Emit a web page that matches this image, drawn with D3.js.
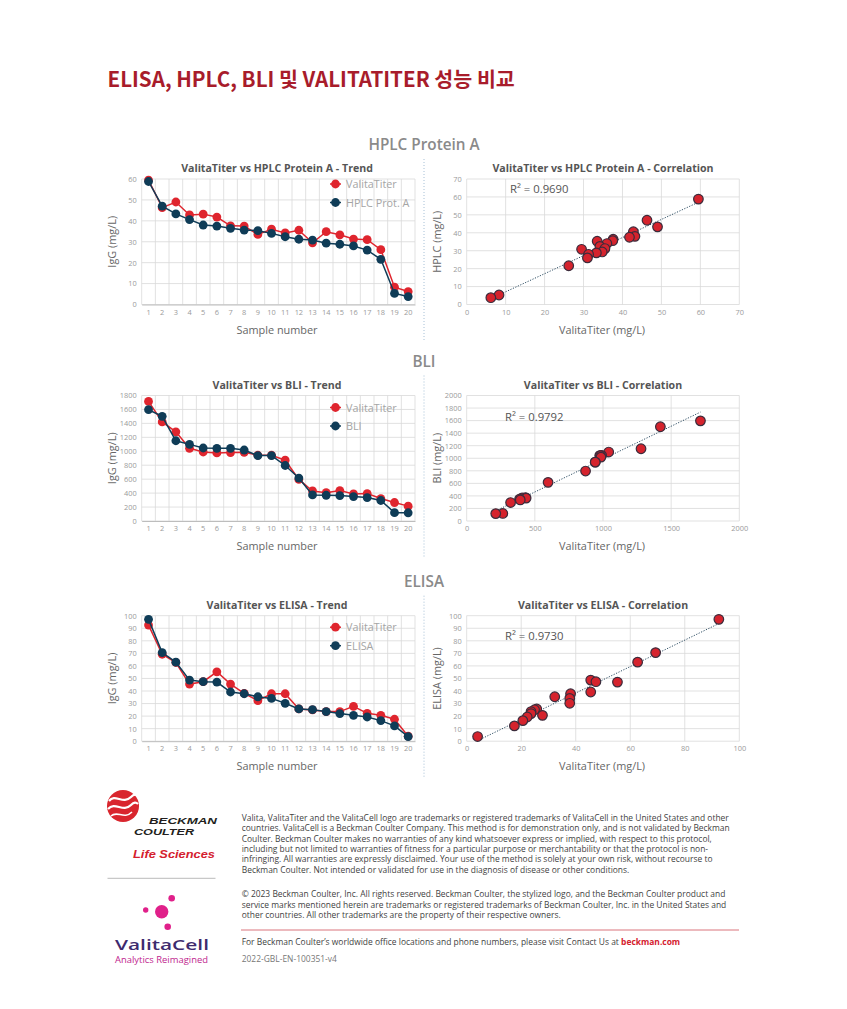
<!DOCTYPE html>
<html>
<head>
<meta charset="utf-8">
<script src="https://cdn.jsdelivr.net/npm/d3@7"></script>
<style>
  html, body { margin: 0; padding: 0; background: #fff; }
  svg { display: block; }
</style>
</head>
<body>
<div id="page"></div>
<script>
// ---- data ----
var samples = [1,2,3,4,5,6,7,8,9,10,11,12,13,14,15,16,17,18,19,20];

var hplcValita = [59.5,46.3,49,42.8,43.2,41.8,37.6,37.5,33.5,36,34.2,35.5,29.5,34.8,33.3,31.3,31,26.2,8.3,6.2];
var hplcRef    = [58.8,47,43.3,40.6,38,37.5,36.4,35.6,35.3,34,32.4,31.2,30.8,29.3,28.8,28,26,21.6,5.3,3.8];

var bliValita = [1715,1421,1279,1042,990,976,981,985,943,943,872,597,431,407,436,388,393,322,265,213];
var bliRef    = [1596,1502,1151,1099,1047,1042,1042,1018,938,938,796,616,374,369,365,350,336,294,120,118];

var elisaValita = [92.5,69.3,62.7,45.5,47.4,55.3,45.5,38.1,32.3,37.8,37.8,25.7,24.9,23.6,23.6,27.8,22.2,20.6,17.5,4];
var elisaRef    = [97.1,70.6,63,48.7,47.4,47.1,39.2,37.8,35.4,34.1,30.2,25.7,25.1,23.6,22,20.6,19.3,16.4,12.2,3.7];

var sectionNames = ["HPLC Protein A", "BLI", "ELISA"];
var refNames     = ["HPLC Prot. A", "BLI", "ELISA"];
var methodShort  = ["HPLC Protein A", "BLI", "ELISA"];
var scatterYLabels = ["HPLC (mg/L)", "BLI (mg/L)", "ELISA (mg/L)"];
var r2Text = ["0.9690", "0.9792", "0.9730"];

var trendYTicks = [
  [0,10,20,30,40,50,60],
  [0,200,400,600,800,1000,1200,1400,1600,1800],
  [0,10,20,30,40,50,60,70,80,90,100]
];
var scatterXTicks = [
  [0,10,20,30,40,50,60,70],
  [0,500,1000,1500,2000],
  [0,20,40,60,80,100]
];
var scatterYTicks = [
  [0,10,20,30,40,50,60,70],
  [0,200,400,600,800,1000,1200,1400,1600,1800,2000],
  [0,10,20,30,40,50,60,70,80,90,100]
];

// ---- layout ----
var W = 847, H = 1009;
var font = "'Open Sans', 'Noto Sans', sans-serif";
var red = "#df252e", navy = "#0f3c57", grid = "#d9d9d9";
var plotH = 125.5;
var trendX0 = 141.7, trendX1 = 415;
var scatX0 = 466.7, scatX1 = 739.3;
var fmt = d3.format("d");

var sections = [
  {top: 179, valita: hplcValita, ref: hplcRef, legendDy: 5,  r2x: 510, r2dy: 13.5},
  {top: 395.5, valita: bliValita, ref: bliRef, legendDy: 12, r2x: 505, r2dy: 25},
  {top: 615.7, valita: elisaValita, ref: elisaRef, legendDy: 11.5, r2x: 505, r2dy: 24.5}
];

var svg = d3.select("#page").append("svg")
    .attr("width", W)
    .attr("height", H)
    .style("font-family", font);

// page title
svg.append("text")
    .attr("x", 107.5)
    .attr("y", 86.5)
    .attr("fill", "#a81c2b")
    .style("font-family", "'Noto Sans CJK KR', 'Noto Sans', sans-serif")
    .style("font-weight", 700)
    .style("font-size", "20.6px")
    .text("ELISA, HPLC, BLI 및 VALITATITER 성능 비교");

sections.forEach(function(sec, i) {
    var top = sec.top, bottom = top + plotH;

    // section heading + separator
    svg.append("text")
        .attr("x", 424).attr("y", top - 29)
        .attr("text-anchor", "middle")
        .attr("fill", "#8a8a8a")
        .style("font-size", "15.3px")
        .style("font-weight", 600)
        .text(sectionNames[i]);

    svg.append("line")
        .attr("x1", 424).attr("x2", 424)
        .attr("y1", top - 20).attr("y2", bottom + 37)
        .attr("stroke", "#8fb0cc")
        .attr("stroke-width", 0.8)
        .attr("stroke-dasharray", "1,2");

    drawTrend(sec, i, top, bottom);
    drawScatter(sec, i, top, bottom);
});

function drawTrend(sec, i, top, bottom) {
    var g = svg.append("g");
    var yt = trendYTicks[i];
    var x = d3.scaleBand().domain(samples).range([trendX0, trendX1]);
    var y = d3.scaleLinear().domain([0, yt[yt.length - 1]]).range([bottom, top]);
    var bw = x.bandwidth();

    // grid
    g.append("g").selectAll("line").data(yt).join("line")
        .attr("x1", trendX0).attr("x2", trendX1)
        .attr("y1", function(d) { return y(d); })
        .attr("y2", function(d) { return y(d); })
        .attr("stroke", grid).attr("stroke-width", 0.8);
    g.append("g").selectAll("line").data([0].concat(samples)).join("line")
        .attr("x1", function(d) { return d === 0 ? trendX0 : x(d) + bw; })
        .attr("x2", function(d) { return d === 0 ? trendX0 : x(d) + bw; })
        .attr("y1", top).attr("y2", bottom)
        .attr("stroke", grid).attr("stroke-width", 0.8);

    // axes
    var ya = g.append("g")
        .attr("transform", "translate(" + trendX0 + ",0)")
        .call(d3.axisLeft(y).tickValues(yt).tickFormat(fmt).tickSize(0).tickPadding(5));
    ya.select(".domain").remove();
    var xa = g.append("g")
        .attr("transform", "translate(0," + bottom + ")")
        .call(d3.axisBottom(x).tickSize(0).tickPadding(5));
    xa.select(".domain").attr("stroke", "#bdbdbd");
    g.selectAll(".tick text")
        .attr("fill", "#9a9a9a")
        .style("font-family", font)
        .style("font-size", "7.4px");

    // titles
    g.append("text")
        .attr("x", 277).attr("y", top - 7)
        .attr("text-anchor", "middle")
        .attr("fill", "#555")
        .style("font-size", "10.6px")
        .style("font-weight", 700)
        .text("ValitaTiter vs " + methodShort[i] + " - Trend");
    g.append("text")
        .attr("x", 277).attr("y", bottom + 29)
        .attr("text-anchor", "middle")
        .attr("fill", "#666")
        .style("font-size", "10.9px")
        .text("Sample number");
    g.append("text")
        .attr("transform", "translate(116," + (top + plotH / 2) + ") rotate(-90)")
        .attr("text-anchor", "middle")
        .attr("fill", "#666")
        .style("font-size", "10.9px")
        .text("IgG (mg/L)");

    // series (ValitaTiter under, reference on top)
    var series = [
        {vals: sec.valita, color: red, name: "ValitaTiter"},
        {vals: sec.ref, color: navy, name: refNames[i]}
    ];
    var line = d3.line()
        .x(function(d, j) { return x(samples[j]) + bw / 2; })
        .y(function(d) { return y(d); });

    series.forEach(function(s) {
        g.append("path")
            .attr("d", line(s.vals))
            .attr("fill", "none")
            .attr("stroke", s.color)
            .attr("stroke-width", 1.5);
        g.append("g").selectAll("circle").data(s.vals).join("circle")
            .attr("cx", function(d, j) { return x(samples[j]) + bw / 2; })
            .attr("cy", function(d) { return y(d); })
            .attr("r", 4.4)
            .attr("fill", s.color);
    });

    // legend
    var lg = g.append("g").attr("transform", "translate(330," + (top + sec.legendDy) + ")");
    series.forEach(function(s, k) {
        var row = lg.append("g").attr("transform", "translate(0," + (k * 18.5) + ")");
        row.append("line").attr("x1", 0).attr("x2", 11).attr("stroke", s.color).attr("stroke-width", 1.5);
        row.append("circle").attr("cx", 5.5).attr("r", 4.4).attr("fill", s.color);
        row.append("text")
            .attr("x", 16).attr("y", 4)
            .attr("fill", "#a5a5a5")
            .style("font-size", "10.8px")
            .text(s.name);
    });
}

function drawScatter(sec, i, top, bottom) {
    var g = svg.append("g");
    var xt = scatterXTicks[i], yt = scatterYTicks[i];
    var x = d3.scaleLinear().domain([0, xt[xt.length - 1]]).range([scatX0, scatX1]);
    var y = d3.scaleLinear().domain([0, yt[yt.length - 1]]).range([bottom, top]);
    var pts = sec.valita.map(function(v, j) { return [v, sec.ref[j]]; });

    g.append("g").selectAll("line").data(yt).join("line")
        .attr("x1", scatX0).attr("x2", scatX1)
        .attr("y1", function(d) { return y(d); })
        .attr("y2", function(d) { return y(d); })
        .attr("stroke", grid).attr("stroke-width", 0.8);
    g.append("g").selectAll("line").data(xt).join("line")
        .attr("x1", function(d) { return x(d); })
        .attr("x2", function(d) { return x(d); })
        .attr("y1", top).attr("y2", bottom)
        .attr("stroke", grid).attr("stroke-width", 0.8);

    var ya = g.append("g")
        .attr("transform", "translate(" + scatX0 + ",0)")
        .call(d3.axisLeft(y).tickValues(yt).tickFormat(fmt).tickSize(0).tickPadding(5));
    ya.select(".domain").remove();
    var xa = g.append("g")
        .attr("transform", "translate(0," + bottom + ")")
        .call(d3.axisBottom(x).tickValues(xt).tickFormat(fmt).tickSize(0).tickPadding(5));
    xa.select(".domain").remove();
    g.selectAll(".tick text")
        .attr("fill", "#9a9a9a")
        .style("font-family", font)
        .style("font-size", "7.4px");

    g.append("text")
        .attr("x", 603).attr("y", top - 7)
        .attr("text-anchor", "middle")
        .attr("fill", "#555")
        .style("font-size", "10.6px")
        .style("font-weight", 700)
        .text("ValitaTiter vs " + methodShort[i] + " - Correlation");
    g.append("text")
        .attr("x", 602).attr("y", bottom + 29)
        .attr("text-anchor", "middle")
        .attr("fill", "#666")
        .style("font-size", "10.9px")
        .text("ValitaTiter (mg/L)");
    g.append("text")
        .attr("transform", "translate(441," + (top + plotH / 2) + ") rotate(-90)")
        .attr("text-anchor", "middle")
        .attr("fill", "#666")
        .style("font-size", "10.9px")
        .text(scatterYLabels[i]);

    // least-squares trendline
    var mx = d3.mean(pts, function(p) { return p[0]; });
    var my = d3.mean(pts, function(p) { return p[1]; });
    var b = d3.sum(pts, function(p) { return (p[0] - mx) * (p[1] - my); }) /
            d3.sum(pts, function(p) { return (p[0] - mx) * (p[0] - mx); });
    var a = my - b * mx;
    var ext = d3.extent(pts, function(p) { return p[0]; });
    g.append("line")
        .attr("x1", x(ext[0])).attr("y1", y(a + b * ext[0]))
        .attr("x2", x(ext[1])).attr("y2", y(a + b * ext[1]))
        .attr("stroke", "#2d4d63")
        .attr("stroke-width", 1)
        .attr("stroke-dasharray", "1.2,1.5");

    g.append("g").selectAll("circle").data(pts).join("circle")
        .attr("cx", function(p) { return x(p[0]); })
        .attr("cy", function(p) { return y(p[1]); })
        .attr("r", 4.8)
        .attr("fill", "#d5232d")
        .attr("stroke", "#3b2c3c")
        .attr("stroke-width", 1.2);

    g.append("text")
        .attr("x", sec.r2x).attr("y", top + sec.r2dy)
        .attr("fill", "#555")
        .style("font-size", "11.3px")
        .text("R² = " + r2Text[i]);
}

// ---- footer: logos ----
var logo = svg.append("g");
logo.append("circle").attr("cx", 123).attr("cy", 806).attr("r", 16).attr("fill", "#d9262e");
logo.append("path")
    .attr("d", "M109,801 C115,793 123,805 131,797 C134,794 136,794 138,796")
    .attr("fill", "none").attr("stroke", "#fff").attr("stroke-width", 2.2);
logo.append("path")
    .attr("d", "M108,809 C115,801 123,813 131,805 C134,802 136,802 138,804")
    .attr("fill", "none").attr("stroke", "#fff").attr("stroke-width", 2.2);
logo.append("path")
    .attr("d", "M111,816 C117,810 124,820 132,812")
    .attr("fill", "none").attr("stroke", "#fff").attr("stroke-width", 1.6);

var logoFont = "'Liberation Sans', sans-serif";
logo.append("text")
    .attr("x", 149).attr("y", 823.5)
    .attr("textLength", 68).attr("lengthAdjust", "spacingAndGlyphs")
    .attr("fill", "#231f20")
    .style("font-family", logoFont)
    .style("font-weight", 700).style("font-style", "italic").style("font-size", "9.6px")
    .text("BECKMAN");
logo.append("text")
    .attr("x", 134).attr("y", 834.5)
    .attr("textLength", 60).attr("lengthAdjust", "spacingAndGlyphs")
    .attr("fill", "#231f20")
    .style("font-family", logoFont)
    .style("font-weight", 700).style("font-style", "italic").style("font-size", "9.6px")
    .text("COULTER");
logo.append("text")
    .attr("x", 133).attr("y", 858.3)
    .attr("textLength", 82).attr("lengthAdjust", "spacingAndGlyphs")
    .attr("fill", "#d4202e")
    .style("font-family", logoFont)
    .style("font-weight", 700).style("font-style", "italic").style("font-size", "10.5px")
    .text("Life Sciences");
logo.append("line")
    .attr("x1", 107.5).attr("x2", 215.5).attr("y1", 878.3).attr("y2", 878.3)
    .attr("stroke", "#bbb").attr("stroke-width", 1);

var dots = [[161.7, 911.7, 6.7], [171.7, 898.3, 3.3], [145.7, 910, 2.7], [167.7, 926.7, 3.3]];
logo.append("g").selectAll("circle").data(dots).join("circle")
    .attr("cx", function(d) { return d[0]; })
    .attr("cy", function(d) { return d[1]; })
    .attr("r", function(d) { return d[2]; })
    .attr("fill", "#e0208a");
logo.append("text")
    .attr("x", 115).attr("y", 950)
    .attr("textLength", 94).attr("lengthAdjust", "spacingAndGlyphs")
    .attr("fill", "#3e2b6e")
    .style("font-size", "15px").style("font-weight", 600)
    .text("ValitaCell");
logo.append("text")
    .attr("x", 115).attr("y", 962.5)
    .attr("textLength", 93).attr("lengthAdjust", "spacingAndGlyphs")
    .attr("fill", "#c0268e")
    .style("font-size", "8.3px")
    .text("Analytics Reimagined");

// ---- footer: legal text ----
var legal1 = [
    "Valita, ValitaTiter and the ValitaCell logo are trademarks or registered trademarks of ValitaCell in the United States and other",
    "countries. ValitaCell is a Beckman Coulter Company. This method is for demonstration only, and is not validated by Beckman",
    "Coulter. Beckman Coulter makes no warranties of any kind whatsoever express or implied, with respect to this protocol,",
    "including but not limited to warranties of fitness for a particular purpose or merchantability or that the protocol is non-",
    "infringing. All warranties are expressly disclaimed. Your use of the method is solely at your own risk, without recourse to",
    "Beckman Coulter. Not intended or validated for use in the diagnosis of disease or other conditions."
];
var legal2 = [
    "© 2023 Beckman Coulter, Inc. All rights reserved. Beckman Coulter, the stylized logo, and the Beckman Coulter product and",
    "service marks mentioned herein are trademarks or registered trademarks of Beckman Coulter, Inc. in the United States and",
    "other countries. All other trademarks are the property of their respective owners."
];
var footSize = 8.45;
var foot = svg.append("g").style("font-size", footSize + "px").attr("fill", "#3f3f3f");
foot.selectAll("text.l1").data(legal1).join("text")
    .attr("class", "l1")
    .attr("x", 241.7)
    .attr("y", function(d, k) { return 820.7 + k * 10.4; })
    .text(function(d) { return d; });
foot.selectAll("text.l2").data(legal2).join("text")
    .attr("class", "l2")
    .attr("x", 241.7)
    .attr("y", function(d, k) { return 896.7 + k * 10.8; })
    .text(function(d) { return d; });
svg.append("line")
    .attr("x1", 241).attr("x2", 739).attr("y1", 930).attr("y2", 930)
    .attr("stroke", "#d0505a").attr("stroke-width", 0.8);
var contact = svg.append("text")
    .attr("x", 241.7).attr("y", 945)
    .attr("fill", "#3f3f3f")
    .style("font-size", footSize + "px");
contact.append("tspan").text("For Beckman Coulter\u2019s worldwide office locations and phone numbers, please visit Contact Us at ");
contact.append("tspan").attr("fill", "#d4202e").style("font-weight", 700).text("beckman.com");
svg.append("text")
    .attr("x", 241.7).attr("y", 962.3)
    .attr("fill", "#777")
    .style("font-size", footSize + "px")
    .text("2022-GBL-EN-100351-v4");
</script>
</body>
</html>
